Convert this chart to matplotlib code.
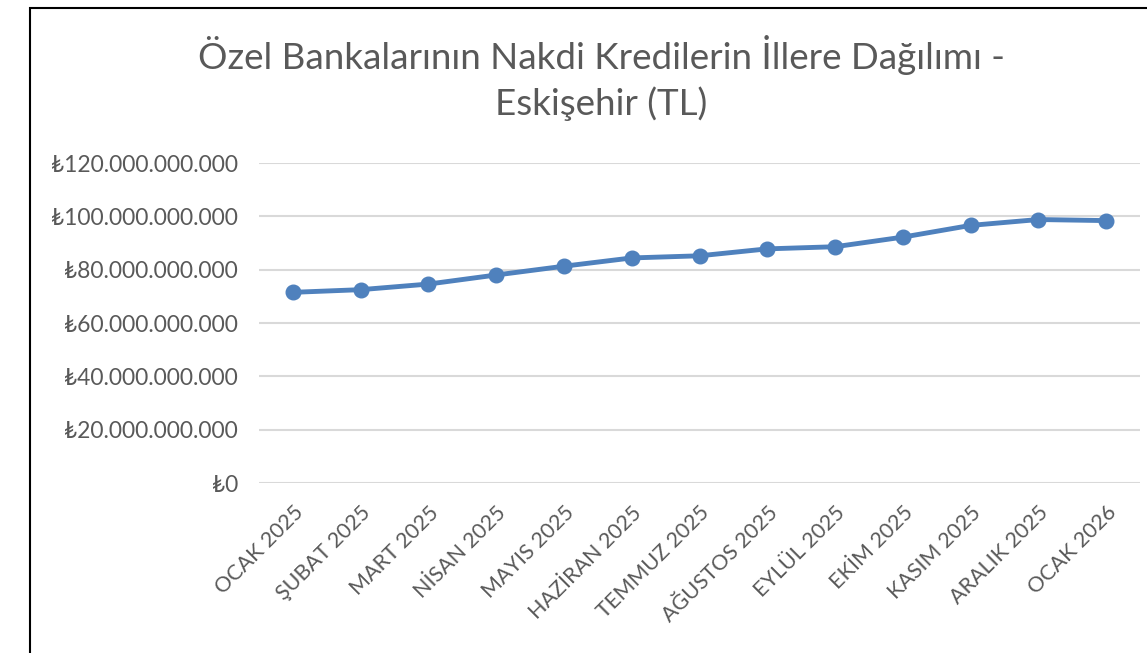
import matplotlib.pyplot as plt
from matplotlib.ticker import FuncFormatter
from matplotlib.patches import Rectangle

# data (billions TL)
months = ["OCAK 2025", "ŞUBAT 2025", "MART 2025", "NİSAN 2025", "MAYIS 2025",
          "HAZİRAN 2025", "TEMMUZ 2025", "AĞUSTOS 2025", "EYLÜL 2025",
          "EKİM 2025", "KASIM 2025", "ARALIK 2025", "OCAK 2026"]
credit_bn = [71.5, 72.5, 74.6, 78.0, 81.3, 84.4, 85.2, 87.8, 88.6, 92.2, 96.6, 98.8, 98.4]
y_ticks_bn = [0, 20, 40, 60, 80, 100, 120]

plt.rcParams['font.family'] = ['Lato', 'DejaVu Sans']
grey = "#595959"

W, H = 1147, 653
fig = plt.figure(figsize=(W / 100, H / 100), dpi=100)
ax = fig.add_axes([259 / W, 1 - 483 / H, (1140 - 259) / W, (483 - 163) / H])

values = [v * 1e9 for v in credit_bn]
x = range(len(months))
ax.plot(x, values, color="#4F81BD", lw=3.5, marker="o", ms=10.5,
        solid_capstyle="round", zorder=3)

ax.set_xlim(-0.5, len(months) - 0.5)
ax.set_ylim(0, 120e9)
ax.set_yticks([t * 1e9 for t in y_ticks_bn])


def lira(v, pos):
    if v == 0:
        return "₺0"
    return "₺" + f"{int(round(v)):,}".replace(",", ".")


ax.yaxis.set_major_formatter(FuncFormatter(lira))
ax.set_xticks(list(x))
ax.set_xticklabels(months, rotation=45, ha="right", rotation_mode="anchor")
ax.tick_params(axis="y", length=0, colors=grey, labelsize=16.5, pad=15)
ax.tick_params(axis="x", length=0, colors=grey, labelsize=15.5, pad=14)
ax.grid(axis="y", color="#d9d9d9", lw=1.5)
ax.set_axisbelow(True)
for s in ax.spines.values():
    s.set_visible(False)

fig.text(601 / W, 1 - 78 / H,
         "Özel Bankalarının Nakdi Kredilerin İllere Dağılımı -\nEskişehir (TL)",
         ha="center", va="center", fontsize=26.5, color=grey, linespacing=1.4)

# outer chart border
fig.patches.append(Rectangle((30 / W, -0.1), 1.2, 1 - 8 / H + 0.1,
                             transform=fig.transFigure, fill=False,
                             edgecolor="black", lw=1.5))

fig.savefig("out.png", dpi=100)
